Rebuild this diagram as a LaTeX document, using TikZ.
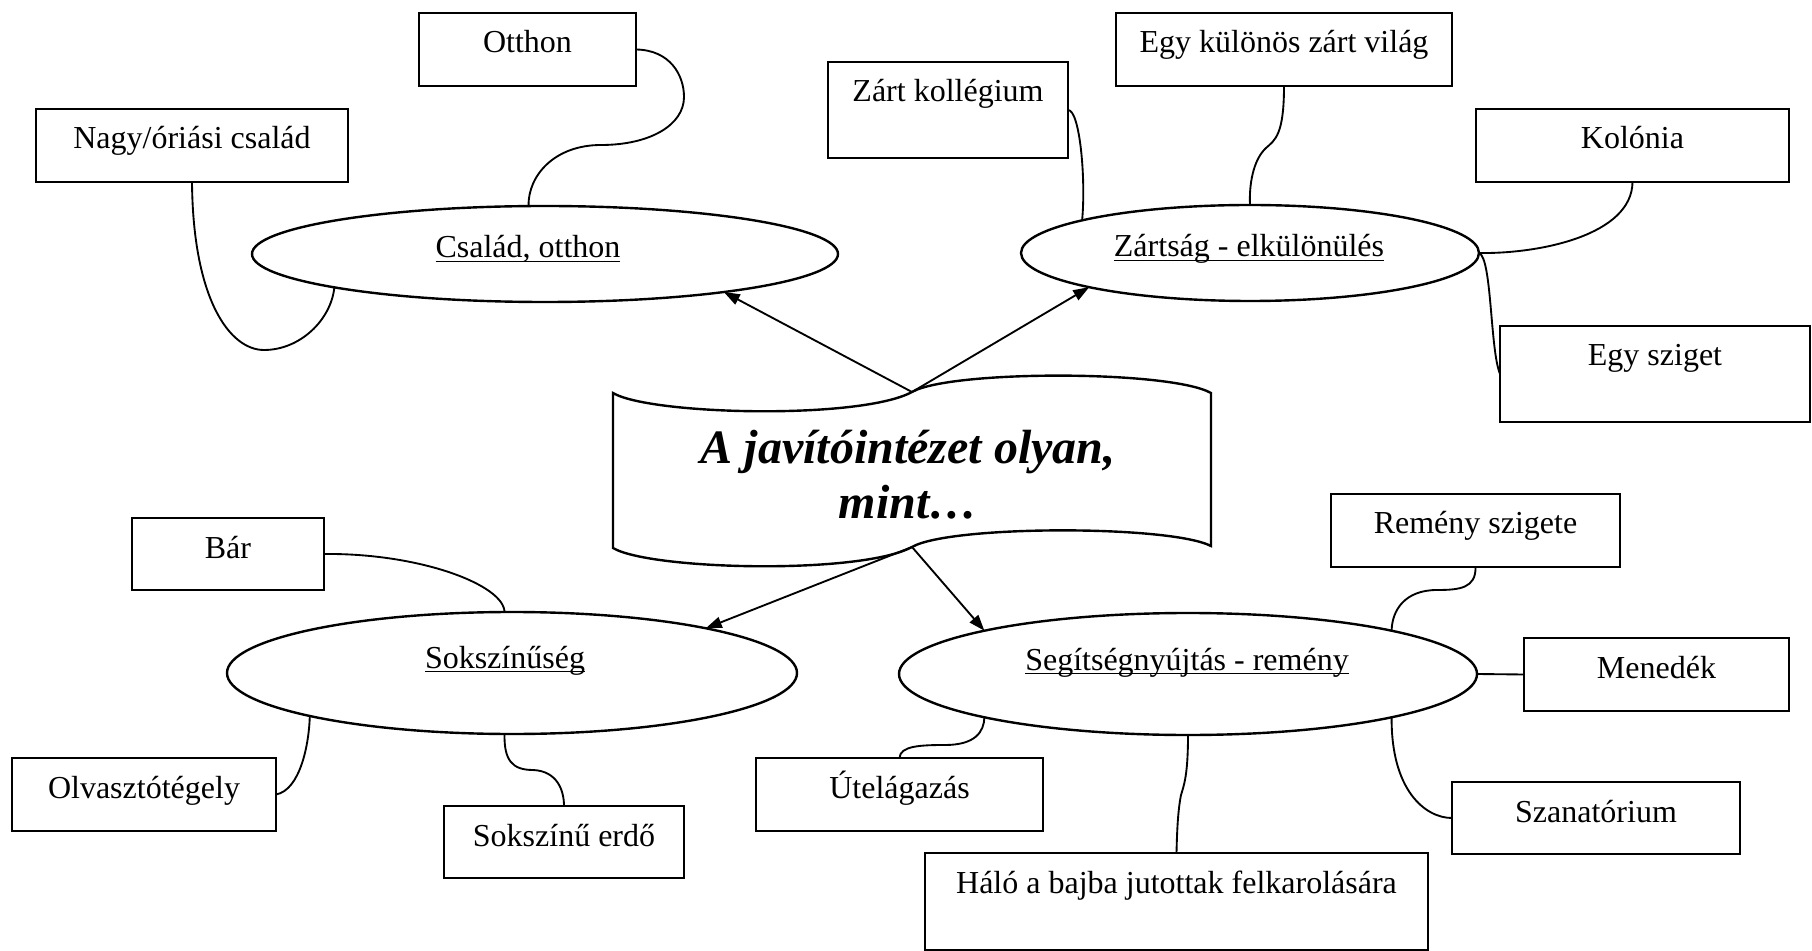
\documentclass[tikz,border=0pt]{standalone}
\usepackage{fontspec}
\setmainfont{Liberation Serif}
\usetikzlibrary{fit,calc,arrows.meta,shapes.geometric}
\tikzset{
  boxst/.style={draw, line width=1pt, inner sep=0pt, outer sep=0pt},
  lbl/.style={font=\fontsize{12}{14}\selectfont, inner sep=0pt, anchor=base},
  ell/.style={draw, ellipse, line width=0.9pt, inner sep=0pt, outer sep=0pt},
  conn/.style={line width=0.7pt},
  arr/.style={line width=0.7pt, -{Triangle[length=6pt,width=4.2pt]}},
  flag/.style={line width=0.9pt},
  bigt/.style={font=\bfseries\itshape\fontsize{18}{20.7}\selectfont, inner sep=0pt, anchor=base}
}
\newcommand\mkbox[6]{%
  \node[boxst, fit={(#2,#3) (#4,#5)}] (#1) {};
  \node[lbl] (#1t) at ($(#1.north)+(0,40)$) {#6};
}
\newcommand\ulword[1]{\underline{\smash{#1}}}
\begin{document}
\begin{tikzpicture}[x=0.375pt,y=-0.375pt]
\useasboundingbox (0,0) rectangle (1812,951);

% boxes
\mkbox{otthon}{419}{13}{636}{86}{Otthon}
\mkbox{nagy}{36}{109}{348}{182}{Nagy/óriási család}
\mkbox{zk}{828}{62}{1068}{158}{Zárt kollégium}
\mkbox{ekz}{1116}{13}{1452}{86}{Egy különös zárt világ}
\mkbox{kol}{1476}{109}{1789}{182}{Kolónia}
\mkbox{sz}{1500}{326}{1810}{422}{Egy sziget}
\mkbox{bar}{132}{518}{324}{590}{Bár}
\mkbox{olv}{12}{758}{276}{831}{Olvasztótégely}
\mkbox{erdo}{444}{806}{684}{878}{Sokszínű erdő}
\mkbox{rem}{1331}{494}{1620}{567}{Remény szigete}
\mkbox{men}{1524}{638}{1789}{711}{Menedék}
\mkbox{ut}{756}{758}{1043}{831}{Útelágazás}
\mkbox{szan}{1452}{782}{1740}{854}{Szanatórium}
\mkbox{halo}{925}{853}{1428}{950}{Háló a bajba jutottak felkarolására}

% ellipses
\node[ell, minimum width=219.75pt, minimum height=36pt] (cs) at (545,254) {};
\node[lbl] (cst) at (528,258) {\ulword{Család, otthon}};
\node[ell, minimum width=171.75pt, minimum height=36pt] (zs) at (1250,253) {};
\node[lbl] (zst) at (1249,257) {\ulword{Zártság - elkülönülés}};
\node[ell, minimum width=213.75pt, minimum height=45.75pt] (so) at (512,673) {};
\node[lbl] (sot) at (505,668) {\ulword{Sokszínűség}};
\node[ell, minimum width=216.75pt, minimum height=45.75pt] (se) at (1188,674) {};
\node[lbl] (set) at (1187,670) {\ulword{Segítségnyújtás - remény}};

% central flag
\draw[flag] (613,393) .. controls (650,415) and (860,420) .. (912,392)
  .. controls (950,370) and (1170,370) .. (1211,393)
  -- (1211,546)
  .. controls (1170,525) and (950,525) .. (912,547)
  .. controls (860,575) and (650,570) .. (613,548) -- cycle;
\coordinate (ftop) at (912,392);
\coordinate (fbot) at (912,547);
\node[bigt] (ft1) at (908,463) {A javítóintézet olyan,};
\node[bigt] (ft2) at (908,518) {mint…};

% arrows
\draw[arr] (ftop) -- (cs.-12);
\draw[arr] (ftop) -- (zs.192);
\draw[arr] (fbot) -- (so.13);
\draw[arr] (fbot) -- (se.168);

% connectors
\draw[conn] (otthon.east) .. controls (670,50) and (684,75) .. (684,97)
  .. controls (684,125) and (650,145) .. (601,145)
  .. controls (555,145) and (528,175) .. (cs.109);
\draw[conn] (nagy.south) .. controls (193,300) and (230,350) .. (264,350)
  .. controls (300,350) and (331,320) .. (cs.189);
\draw[conn] (zk.east) .. controls (1080,110) and (1086,180) .. (zs.169);
\draw[conn] (ekz.south) .. controls (1284,135) and (1275,140) .. (1266,148)
  .. controls (1253,160) and (1249,185) .. (zs.north);
\draw[conn] (kol.south) .. controls (1632,235) and (1540,254) .. (zs.east);
\draw[conn] (zs.east) .. controls (1492,258) and (1490,350) .. (sz.west);
\draw[conn] (bar.east) .. controls (420,553) and (504,585) .. (so.97);
\draw[conn] (olv.east) .. controls (300,790) and (309,745) .. (so.192);
\draw[conn] (so.263) .. controls (504,760) and (512,770) .. (533,770)
  .. controls (557,771) and (564,790) .. (erdo.north);
\draw[conn] (rem.south) .. controls (1476,588) and (1460,590) .. (1437,590)
  .. controls (1405,590) and (1392,610) .. (se.12);
\draw[conn] (se.east) -- (men.west);
\draw[conn] (ut.north) .. controls (900,746) and (920,745) .. (945,745)
  .. controls (975,745) and (984,732) .. (se.192);
\draw[conn] (se.south) .. controls (1188,775) and (1184,785) .. (1181,795)
  .. controls (1178,810) and (1177,830) .. (halo.north);
\draw[conn] (se.-12) .. controls (1391,790) and (1425,818) .. (szan.west);
\end{tikzpicture}
\end{document}
